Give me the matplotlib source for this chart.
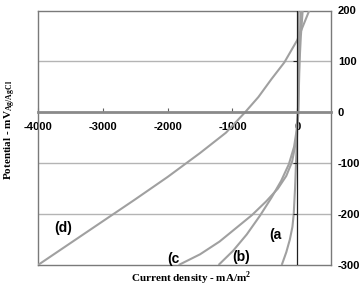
import matplotlib
matplotlib.use("Agg")
import matplotlib.pyplot as plt

plt.rcParams['mathtext.fontset'] = 'custom'
plt.rcParams['mathtext.rm'] = 'Liberation Serif:bold'
plt.rcParams['mathtext.bf'] = 'Liberation Serif:bold'

# Curve data (current density mA/m2, potential mV)
a_current = [-240, -170, -115, -75, -55, -45, -35, -20, -5, 10, 15, 20]
a_potential = [-300, -275, -250, -225, -200, -175, -150, -100, -50, 0, 100, 200]

b_current = [-1215, -990, -780, -575, -400, -250, -130, -50, -10, 10, 20, 30, 42, 57]
b_potential = [-300, -272, -240, -203, -168, -135, -102, -68, -35, 0, 50, 100, 150, 200]

c_current = [-1830, -1500, -1200, -950, -700, -480, -300, -170, -80, -25, 5, 18, 25, 35, 55, 83]
c_potential = [-300, -279, -254, -228, -202, -175, -150, -125, -97, -60, -20, 0, 50, 100, 150, 200]

d_current = [-4000, -3500, -3000, -2500, -2000, -1500, -1100, -806, -600, -400, -200, 0, 185]
d_potential = [-300, -257, -214, -171, -127, -80, -40, 0, 30, 65, 98, 142, 200]

curve_labels = ["(a", "(b)", "(c", "(d)"]
label_x = [-345, -870, -1915, -3610]
label_y = [-242, -284, -288, -228]

xticks = [-4000, -3000, -2000, -1000, 0]
yticks = [-300, -200, -100, 0, 100, 200]
grid_y = [-200, -100, 100]

fig = plt.figure(figsize=(3.59, 2.88), dpi=100)
ax = fig.add_axes([38/359, 1-265/288, (331-38)/359, (265-10.5)/288])

ax.set_xlim(-4000, 520)
ax.set_ylim(-300, 200)

frame_col = '#7a7a7a'
curve_col = '#a0a0a0'
grid_col = '#b4b4b4'

for gy in grid_y:
    ax.axhline(gy, color=grid_col, lw=1.0, zorder=1)

for xs, ys in [(a_current, a_potential), (b_current, b_potential),
               (c_current, c_potential), (d_current, d_potential)]:
    ax.plot(xs, ys, color=curve_col, lw=1.5, zorder=3, solid_capstyle='butt',
            solid_joinstyle='round')

ax.axvline(0, color='#202020', lw=0.9, zorder=4)

# spines
for s in ['left', 'right', 'top']:
    ax.spines[s].set_color(frame_col)
    ax.spines[s].set_linewidth(1.0)
ax.spines['bottom'].set_position(('data', 0))
ax.spines['bottom'].set_color('#8a8a8a')
ax.spines['bottom'].set_linewidth(2.0)
ax.spines['bottom'].set_zorder(5)
ax.plot([0, 1], [0, 0], transform=ax.transAxes, color=frame_col, lw=1.0, clip_on=False)

ax.set_xticks(xticks)
ax.set_xticklabels([str(v) for v in xticks], fontfamily='Liberation Sans',
                   fontweight='bold', fontsize=8)
ax.tick_params(axis='x', direction='in', length=3, width=0.8, color='#606060', pad=7)

ax.yaxis.tick_right()
ax.set_yticks(yticks)
ax.set_yticklabels([str(v) for v in yticks], fontfamily='Liberation Sans',
                   fontweight='bold', fontsize=8)
ax.tick_params(axis='y', length=0, pad=5)

# small tick marks on the vertical zero axis
ax.plot([0]*len(grid_y), grid_y, linestyle='none', marker=0, markersize=3,
        color='#202020', mew=0.8, zorder=4)

for t, lx, ly in zip(curve_labels, label_x, label_y):
    ax.text(lx, ly, t, fontfamily='Liberation Sans', fontweight='bold',
            fontsize=10, ha='center', va='center', zorder=6)

fig.text(191/359, 1-278/288, r"Current density - mA/m$^{2}$",
         fontfamily='Liberation Serif', fontweight='bold', fontsize=8,
         ha='center', va='center')
fig.text(10/359, 1-130/288, r"Potential - mV$_{\rm Ag/AgCl}$",
         fontfamily='Liberation Serif', fontweight='bold', fontsize=8,
         ha='center', va='center', rotation=90)

fig.savefig("out.png", dpi=100)
